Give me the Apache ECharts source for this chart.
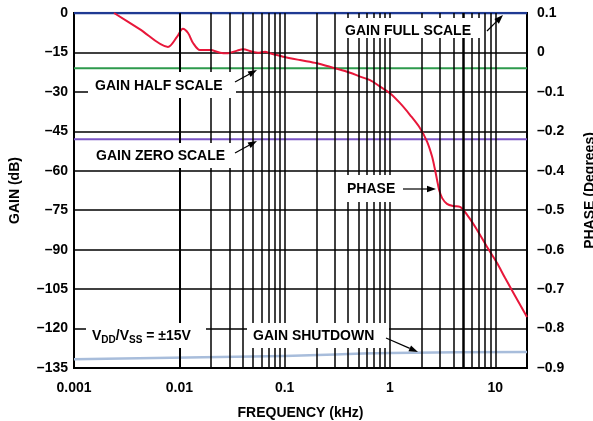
<!DOCTYPE html>
<html>
<head>
<meta charset="utf-8">
<script src="https://cdn.jsdelivr.net/npm/echarts@6/dist/echarts.min.js"></script>
<style>
  html, body { margin: 0; padding: 0; background: #fff; }
  #chart { width: 593px; height: 421px; }
</style>
</head>
<body>
<div id="chart"></div>
<script>
// Phase trace (kHz vs. position on the shared vertical scale)
const phaseFreq = [0.0024, 0.0042, 0.0078, 0.0095, 0.0108, 0.0121, 0.0135, 0.0157, 0.0196, 0.0244,
  0.029, 0.0353, 0.0403, 0.049, 0.0558, 0.0651, 0.0726, 0.0966, 0.14, 0.203, 0.288, 0.418, 0.52,
  0.647, 0.805, 1.0, 1.247, 1.552, 1.931, 2.25, 2.51, 2.68, 2.8, 2.93, 3.13, 3.48, 3.97, 4.63,
  5.4, 6.72, 8.36, 10.4, 12.4, 20];
const phaseTrace = [0, -6.1, -12.9, -9.1, -6.0, -7.6, -11.4, -14.1, -14.1, -15.1,
  -15.3, -14.3, -13.8, -14.7, -15.1, -14.7, -15.3, -16.6, -17.9, -19.1, -20.8, -22.7, -24.2,
  -25.5, -28.0, -30.5, -34.3, -38.8, -43.8, -48.9, -54.6, -59.7, -63.5, -67.3, -70.4, -72.6, -73.4, -73.7,
  -76.8, -82.5, -89.0, -95.1, -100.8, -115.6];

// Gain reference levels (dB)
const levelFreq = [0.001, 20];
const gainFullScale = [0, 0];
const gainHalfScale = [-21, -21];
const gainZeroScale = [-48, -48];
const shutdownFreq = [0.001, 0.1, 1, 20];
const gainShutdown = [-131.7, -130.4, -129.3, -128.9];

// Axis ticks
const freqTicks = [0.001, 0.01, 0.1, 1, 10];
const freqTickLabels = ['0.001', '0.01', '0.1', '1', '10'];
const gainTickLabels = ['0', '–15', '–30', '–45', '–60', '–75', '–90', '–105', '–120', '–135'];
const phaseTickLabels = ['0.1', '0', '–0.1', '–0.2', '–0.4', '–0.5', '–0.6', '–0.7', '–0.8', '–0.9'];

const FONT_FAMILY = '"Liberation Sans", Arial, Helvetica, sans-serif';
const FONT_SIZE = 14;
const FONT = 'bold ' + FONT_SIZE + 'px ' + FONT_FAMILY;
const textStyle = { fontFamily: FONT_FAMILY, fontWeight: 'bold', fontSize: FONT_SIZE, color: '#000' };

const zip = (xs, ys) => xs.map((x, i) => [x, ys[i]]);

// Log-decade vertical grid (1..9 per decade); the 5 kHz line is drawn heavier
const gridFreqs = [];
for (let d = -3; d <= 1; d++) {
  for (let k = 1; k <= 9; k++) {
    const f = +(k * Math.pow(10, d)).toPrecision(6);
    if (f > 0.001 && f < 20) gridFreqs.push(f);
  }
}
const gridLines = gridFreqs.map(f => ({
  xAxis: f,
  lineStyle: { width: f === 5 ? 2.5 : 1.5 }
}));

// Labels with white backing boxes
function note(text, x, cy, box, rich) {
  return [
    { type: 'rect', z: 100, silent: true,
      shape: { x: box[0], y: box[1], width: box[2] - box[0], height: box[3] - box[1] },
      style: { fill: '#fff' } },
    { type: 'text', z: 101, silent: true, x: x, y: cy,
      style: { text: text, font: FONT, fill: '#000', align: 'left', verticalAlign: 'middle', rich: rich } }
  ];
}
function arrow(x1, y1, x2, y2) {
  const ang = Math.atan2(y2 - y1, x2 - x1);
  const len = 9, w = 3.2;
  const bx = x2 - len * Math.cos(ang), by = y2 - len * Math.sin(ang);
  const px = -Math.sin(ang) * w, py = Math.cos(ang) * w;
  return [
    { type: 'line', z: 102, silent: true,
      shape: { x1: x1, y1: y1, x2: bx, y2: by }, style: { stroke: '#000', lineWidth: 1.2 } },
    { type: 'polygon', z: 102, silent: true,
      shape: { points: [[x2, y2], [bx + px, by + py], [bx - px, by - py]] }, style: { fill: '#000' } }
  ];
}

const supplyRich = {
  v: { font: FONT, lineHeight: 18 },
  s: { fontFamily: FONT_FAMILY, fontWeight: 'bold', fontSize: 10, lineHeight: 10, verticalAlign: 'bottom' }
};

const graphics = [].concat(
  note('GAIN FULL SCALE', 345, 31, [340, 18, 484, 38]),
  arrow(487, 31, 503, 15),
  note('GAIN HALF SCALE', 95, 86, [88, 72, 236, 98]),
  arrow(235, 82, 257, 70),
  note('GAIN ZERO SCALE', 96, 156, [88, 143, 236, 168]),
  arrow(235, 153, 257, 141),
  note('PHASE', 347, 189, [340, 175, 403, 202]),
  arrow(403, 189, 436, 189),
  note('{v|V}{s|DD}{v|/V}{s|SS}{v| = ±15V}', 92, 336, [86, 323, 206, 348], supplyRich),
  note('GAIN SHUTDOWN', 253, 336, [247, 323, 389, 348]),
  arrow(386, 338, 418, 352)
);

const chart = echarts.init(document.getElementById('chart'), null, { renderer: 'canvas' });
chart.setOption({
  animation: false,
  backgroundColor: '#fff',
  grid: {
    left: 74, right: 66, top: 13, bottom: 53,
    containLabel: false, outerBoundsMode: 'none',
    show: true, borderColor: '#000', borderWidth: 2
  },
  xAxis: {
    type: 'log', logBase: 10, min: 0.001, max: 20,
    name: 'FREQUENCY (kHz)', nameLocation: 'middle', nameGap: 38,
    nameTextStyle: textStyle,
    axisLine: { show: false }, axisTick: { show: false }, splitLine: { show: false },
    axisLabel: Object.assign({
      margin: 13, showMaxLabel: false,
      formatter: v => {
        const i = freqTicks.findIndex(t => Math.abs(Math.log10(t) - Math.log10(v)) < 1e-6);
        return i < 0 ? '' : freqTickLabels[i];
      }
    }, textStyle)
  },
  yAxis: [{
    type: 'value', min: -135, max: 0, interval: 15,
    name: 'GAIN (dB)', nameLocation: 'middle', nameGap: 52, nameRotate: 90,
    nameTextStyle: textStyle,
    axisLine: { show: false }, axisTick: { show: false },
    splitLine: { show: true, lineStyle: { color: '#000', width: 1.5 } },
    axisLabel: Object.assign({
      margin: 6,
      formatter: v => gainTickLabels[Math.round(-v / 15)]
    }, textStyle)
  }, {
    type: 'value', position: 'right', min: -135, max: 0, interval: 15,
    name: 'PHASE (Degrees)', nameLocation: 'middle', nameGap: 56, nameRotate: 90,
    nameTextStyle: textStyle,
    axisLine: { show: false }, axisTick: { show: false }, splitLine: { show: false },
    axisLabel: Object.assign({
      margin: 10,
      formatter: v => phaseTickLabels[Math.round(-v / 15)]
    }, textStyle)
  }],
  graphic: graphics,
  series: [
    {
      name: 'grid', type: 'line', data: [], z: 1, silent: true,
      markLine: {
        silent: true, symbol: ['none', 'none'], label: { show: false },
        lineStyle: { color: '#000', width: 1.5, type: 'solid', opacity: 1 },
        emphasis: { disabled: true },
        data: gridLines
      }
    },
    { name: 'GAIN FULL SCALE', type: 'line', data: zip(levelFreq, gainFullScale), symbol: 'none', z: 3,
      lineStyle: { color: '#1f3a93', width: 2.5 } },
    { name: 'GAIN HALF SCALE', type: 'line', data: zip(levelFreq, gainHalfScale), symbol: 'none', z: 3,
      lineStyle: { color: '#2e9a4c', width: 2 } },
    { name: 'GAIN ZERO SCALE', type: 'line', data: zip(levelFreq, gainZeroScale), symbol: 'none', z: 3,
      lineStyle: { color: '#7a55c4', width: 2 } },
    { name: 'GAIN SHUTDOWN', type: 'line', data: zip(shutdownFreq, gainShutdown), symbol: 'none', z: 3,
      smooth: true, lineStyle: { color: '#a8bddb', width: 2.5 } },
    { name: 'PHASE', type: 'line', yAxisIndex: 1, data: zip(phaseFreq, phaseTrace), symbol: 'none', z: 4,
      smooth: 0.3, lineStyle: { color: '#e8173a', width: 2 } }
  ]
});
</script>
</body>
</html>
